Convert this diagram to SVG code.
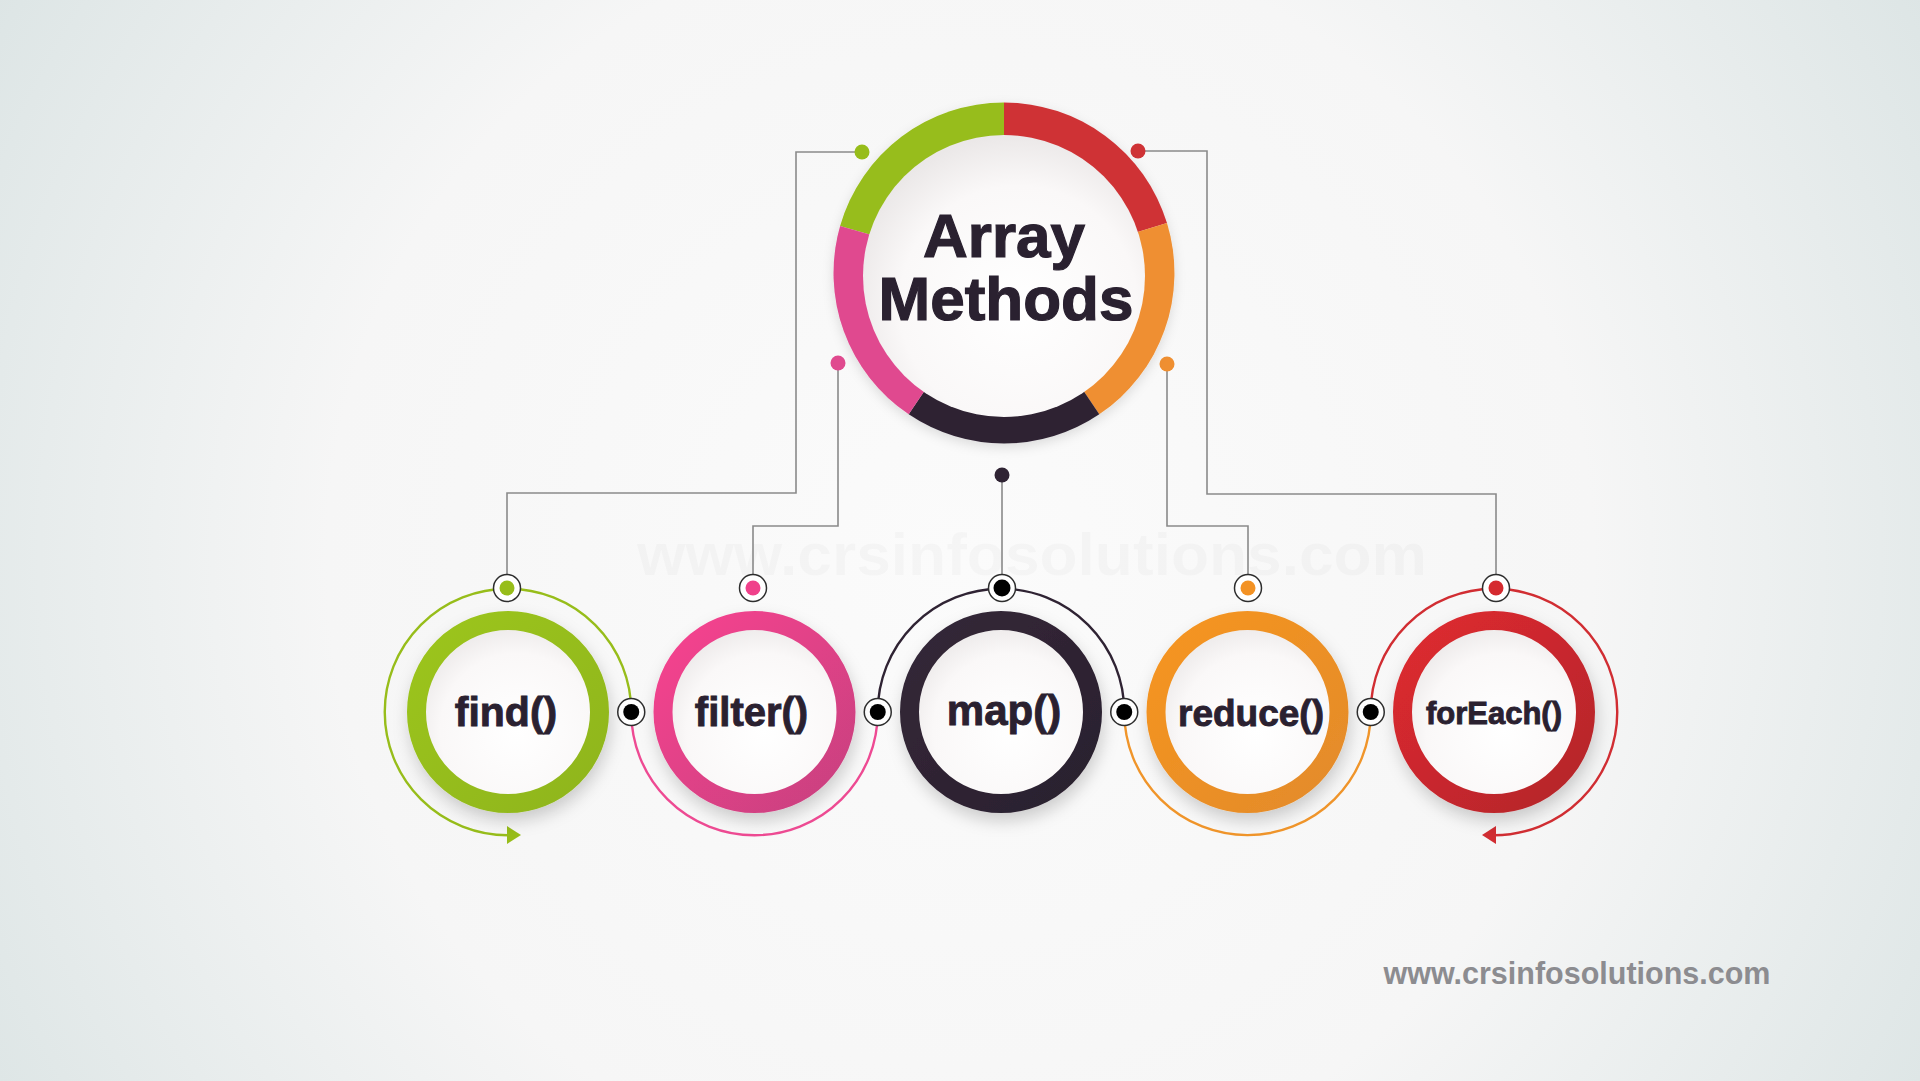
<svg xmlns="http://www.w3.org/2000/svg" width="1920" height="1081" viewBox="0 0 1920 1081">
<defs>
<radialGradient id="bg" cx="960" cy="560" r="1150" gradientUnits="userSpaceOnUse">
<stop offset="0" stop-color="#fbfbfb"/>
<stop offset="0.55" stop-color="#f6f6f6"/>
<stop offset="1" stop-color="#dbe4e4"/>
</radialGradient>
<radialGradient id="inner" cx="0.55" cy="0.6" r="0.6">
<stop offset="0" stop-color="#ffffff"/>
<stop offset="0.7" stop-color="#faf8f8"/>
<stop offset="1" stop-color="#ebe8e8"/>
</radialGradient>
<linearGradient id="gGreen" x1="0" y1="0" x2="1" y2="1"><stop offset="0" stop-color="#9cc51a"/><stop offset="1" stop-color="#8fb51c"/></linearGradient>
<linearGradient id="gPink" x1="0" y1="0" x2="1" y2="1"><stop offset="0" stop-color="#f7438f"/><stop offset="1" stop-color="#c8417f"/></linearGradient>
<linearGradient id="gDark" x1="0" y1="0" x2="1" y2="1"><stop offset="0" stop-color="#342838"/><stop offset="1" stop-color="#2a1f2e"/></linearGradient>
<linearGradient id="gOrange" x1="0" y1="0" x2="1" y2="1"><stop offset="0" stop-color="#f6951f"/><stop offset="1" stop-color="#e38b2b"/></linearGradient>
<linearGradient id="gRed" x1="0" y1="0" x2="1" y2="1"><stop offset="0" stop-color="#df2a30"/><stop offset="1" stop-color="#b3252b"/></linearGradient>
<filter id="shadow" x="-30%" y="-30%" width="160%" height="170%">
<feDropShadow dx="2" dy="8" stdDeviation="8" flood-color="#000" flood-opacity="0.18"/>
</filter>
<filter id="shadowSoft" x="-30%" y="-30%" width="160%" height="160%">
<feDropShadow dx="0" dy="4" stdDeviation="6" flood-color="#000" flood-opacity="0.12"/>
</filter>
</defs>
<style>
.lbl{font-family:"Liberation Sans",Arial,sans-serif;font-weight:bold;fill:#2a2130;stroke:#2a2130;stroke-width:0.9;text-anchor:middle}
.title{font-family:"Liberation Sans",Arial,sans-serif;font-weight:bold;font-size:62px;fill:#2a2130;stroke:#2a2130;stroke-width:1.2;text-anchor:middle}
.conn{fill:none;stroke:#8a8a8a;stroke-width:1.6}
.arc{fill:none;stroke-width:2.4}
.ring{fill:url(#inner);stroke-width:19}
.hole{fill:#ffffff;stroke:#2e2e2e;stroke-width:1.5}
.jdot{fill:#000000}
</style>
<rect x="0" y="0" width="1920" height="1081" fill="url(#bg)"/>
<text x="1032" y="575" font-family="Liberation Sans,Arial,sans-serif" font-weight="bold" font-size="60" fill="#000" fill-opacity="0.025" text-anchor="middle" textLength="790" lengthAdjust="spacingAndGlyphs">www.crsinfosolutions.com</text>

<g id="connectors">
<path class="conn" d="M855 152 H796 V493 H507 V574"/>
<path class="conn" d="M1145 151 H1207 V494 H1496 V574"/>
<path class="conn" d="M838 370 V526 H753 V574"/>
<path class="conn" d="M1167 371 V526 H1248 V574"/>
<path class="conn" d="M1002 482 V574"/>
<circle cx="862" cy="152" r="7.5" fill="#97bd1a"/>
<circle cx="1138" cy="151" r="7.5" fill="#cf3336"/>
<circle cx="838" cy="363" r="7.5" fill="#e04a8f"/>
<circle cx="1167" cy="364" r="7.5" fill="#ef8f31"/>
<circle cx="1002" cy="475" r="7.5" fill="#2f2333"/>
<path class="arc" stroke="#97bd1a" d="M631.25 712 A123.25 123.25 0 1 0 508 835.25 L509 835.25"/>
<polygon points="507,826 521,835 507,844" fill="#97bd1a"/>
<path class="arc" stroke="#ee4a93" d="M631.25 712 A123.25 123.25 0 0 0 877.75 712"/>
<path class="arc" stroke="#2f2333" d="M877.75 712 A123.25 123.25 0 0 1 1124.25 712"/>
<path class="arc" stroke="#f0952a" d="M1124.25 712 A123.25 123.25 0 0 0 1370.75 712"/>
<path class="arc" stroke="#d12d32" d="M1370.75 712 A123.25 123.25 0 1 1 1494 835.25"/>
<polygon points="1496,826 1482,835 1496,844" fill="#d12d32"/>
<circle class="hole" cx="507" cy="588" r="13.5"/><circle cx="507" cy="588" r="7.5" fill="#97bd1a"/>
<circle class="hole" cx="753" cy="588" r="13.5"/><circle cx="753" cy="588" r="7.5" fill="#f0418b"/>
<circle class="hole" cx="1002" cy="588" r="13.5"/><circle class="jdot" cx="1002" cy="588" r="8.5"/>
<circle class="hole" cx="1248" cy="588" r="13.5"/><circle cx="1248" cy="588" r="7.5" fill="#f39224"/>
<circle class="hole" cx="1496" cy="588" r="13.5"/><circle cx="1496" cy="588" r="7.5" fill="#d52a2f"/>
<circle class="hole" cx="631.25" cy="712" r="13.5"/><circle class="jdot" cx="631.25" cy="712" r="8"/>
<circle class="hole" cx="877.75" cy="712" r="13.5"/><circle class="jdot" cx="877.75" cy="712" r="8"/>
<circle class="hole" cx="1124.25" cy="712" r="13.5"/><circle class="jdot" cx="1124.25" cy="712" r="8"/>
<circle class="hole" cx="1370.75" cy="712" r="13.5"/><circle class="jdot" cx="1370.75" cy="712" r="8"/>
</g>

<g id="node-array-methods">
<g filter="url(#shadowSoft)">
<path d="M1004 273 L840.1 226 A170.5 170.5 0 0 1 1004 102.5 Z" fill="#97bd1a"/>
<path d="M1004 273 L1004 102.5 A170.5 170.5 0 0 1 1167 223.1 Z" fill="#cf3336"/>
<path d="M1004 273 L1167 223.1 A170.5 170.5 0 0 1 1099.3 414.3 Z" fill="#ef8f31"/>
<path d="M1004 273 L1099.3 414.3 A170.5 170.5 0 0 1 908.7 414.3 Z" fill="#2f2333"/>
<path d="M1004 273 L908.7 414.3 A170.5 170.5 0 0 1 840.1 226 Z" fill="#e04a8f"/>
</g>
<circle cx="1004" cy="276" r="141" fill="url(#inner)"/>
<text class="title" x="1004" y="257">Array</text>
<text class="title" x="1006" y="320">Methods</text>
</g>

<g id="node-find">
<circle class="ring" cx="508" cy="712" r="91.5" stroke="url(#gGreen)" filter="url(#shadow)"/>
<text class="lbl" x="506" y="726" font-size="41">find()</text>
</g>
<g id="node-filter">
<circle class="ring" cx="754.5" cy="712" r="91.5" stroke="url(#gPink)" filter="url(#shadow)"/>
<text class="lbl" x="751.5" y="726" font-size="40">filter()</text>
</g>
<g id="node-map">
<circle class="ring" cx="1001" cy="712" r="91.5" stroke="url(#gDark)" filter="url(#shadow)"/>
<text class="lbl" x="1004" y="725" font-size="42">map()</text>
</g>
<g id="node-reduce">
<circle class="ring" cx="1247.5" cy="712" r="91.5" stroke="url(#gOrange)" filter="url(#shadow)"/>
<text class="lbl" x="1251" y="726" font-size="37">reduce()</text>
</g>
<g id="node-foreach">
<circle class="ring" cx="1494" cy="712" r="91.5" stroke="url(#gRed)" filter="url(#shadow)"/>
<text class="lbl" x="1494" y="724" font-size="31">forEach()</text>
</g>

<text x="1577" y="984" font-family="Liberation Sans,Arial,sans-serif" font-weight="bold" font-size="30.5" fill="#8c8c90" text-anchor="middle">www.crsinfosolutions.com</text>
</svg>
